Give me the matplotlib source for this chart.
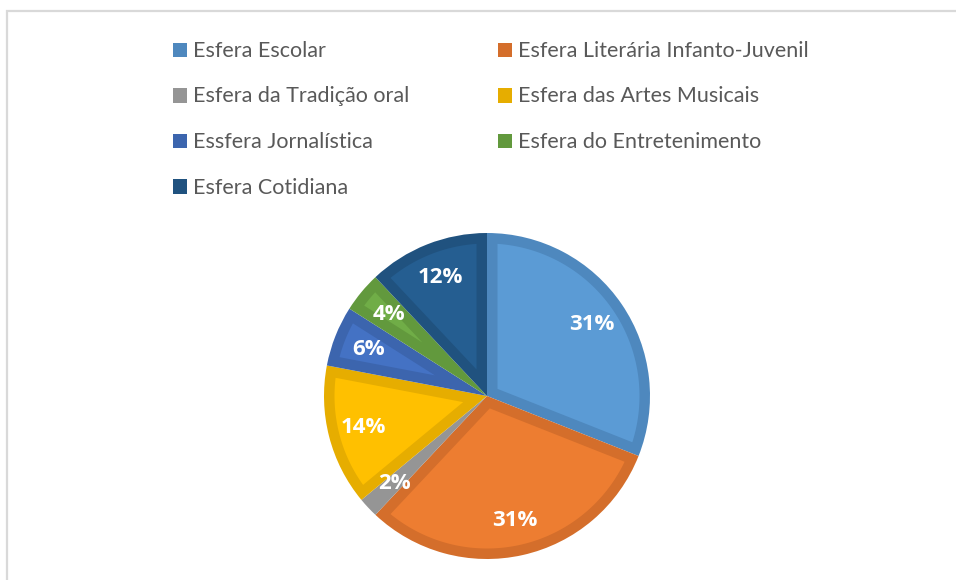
import numpy as np
import matplotlib
matplotlib.use("Agg")
import matplotlib.pyplot as plt
from matplotlib.patches import Rectangle, Polygon

categories = ["Esfera Escolar", "Esfera Literária Infanto-Juvenil",
              "Esfera da Tradição oral", "Esfera das Artes Musicais",
              "Essfera Jornalística", "Esfera do Entretenimento",
              "Esfera Cotidiana"]
values = [31, 31, 2, 14, 6, 4, 12]
fill_colors = ["#5B9BD5", "#ED7D31", "#A5A5A5", "#FFC000", "#4472C4", "#70AD47", "#255E91"]
edge_colors = ["#4E88BE", "#D46E2B", "#959595", "#E6AD00", "#3C65AE", "#62993D", "#20527F"]

W, H = 956, 580
fig = plt.figure(figsize=(W / 100, H / 100), dpi=100)
fig.patch.set_facecolor("white")

# chart border
fig.patches.append(Rectangle((7 / W, -0.1), 1.2, 1 - 11 / H + 0.1, transform=fig.transFigure,
                             fill=False, edgecolor="#D9D9D9", linewidth=1.6))

cx, cy, R = 487, 396, 163
ax = fig.add_axes([(cx - R) / W, (H - cy - R) / H, 2 * R / W, 2 * R / H])
wedges, texts, autotexts = ax.pie(values, colors=edge_colors, startangle=90, counterclock=False,
                                  radius=1, autopct="%1.0f%%", pctdistance=0.78,
                                  wedgeprops=dict(linewidth=0),
                                  textprops=dict(color="white", fontsize=16, fontweight="bold",
                                                 family="Open Sans"))

# inner fill of each wedge, inset by a border width (Excel-style inner border)
d = 10.5 / R
for w, fc in zip(wedges, fill_colors):
    t1, t2 = w.theta1, w.theta2
    half = np.radians(t2 - t1) / 2
    mid = np.radians((t1 + t2) / 2)
    v = d / np.sin(half)
    a = np.degrees(np.arcsin(d / (1 - d)))
    if v >= 1 - d or t1 + a >= t2 - a:
        continue
    th = np.radians(np.linspace(t1 + a, t2 - a, 200))
    pts = [(v * np.cos(mid), v * np.sin(mid))] + list(zip((1 - d) * np.cos(th), (1 - d) * np.sin(th)))
    ax.add_patch(Polygon(pts, closed=True, facecolor=fc, edgecolor="none", zorder=w.get_zorder() + 0.1))
for t in autotexts:
    t.set_zorder(5)

ax.set_xlim(-1, 1)
ax.set_ylim(-1, 1)
ax.set_aspect("equal")
ax.axis("off")

# legend (row-major, two columns)
col_x = [173, 498]
row_y0, row_dy = 50, 45.5
for i, (lab, col) in enumerate(zip(categories, edge_colors)):
    r, c = divmod(i, 2)
    x = col_x[c]
    y = row_y0 + r * row_dy
    fig.patches.append(Rectangle((x / W, (H - y - 7) / H), 14 / W, 14 / H,
                                 transform=fig.transFigure, facecolor=col,
                                 edgecolor="none"))
    fig.text((x + 20) / W, (H - y - 7) / H, lab, ha="left", va="baseline",
             fontsize=15.5, color="#595959", family="Lato")

fig.savefig("out.png", dpi=100)
